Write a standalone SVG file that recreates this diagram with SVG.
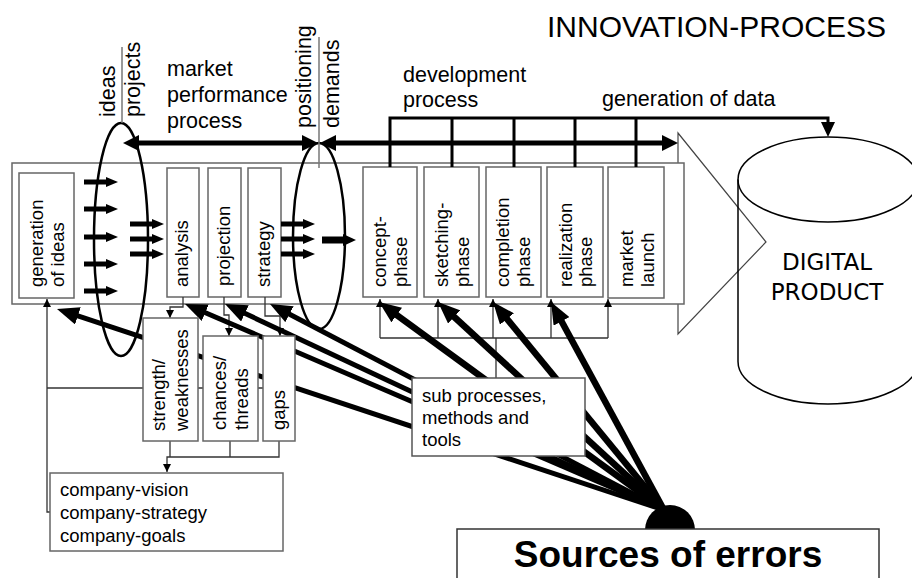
<svg xmlns="http://www.w3.org/2000/svg" width="912" height="578" viewBox="0 0 912 578">
<defs>
<style>
text{font-family:"Liberation Sans",Arial,sans-serif;fill:#000}
.lbl{font-size:18.5px}
.hd{font-size:21.5px}
.box{fill:#fff;stroke:#666;stroke-width:1.5}
.thin{fill:none;stroke:#333;stroke-width:1.3}
.thick{fill:none;stroke:#000;stroke-width:5}
.thick2{fill:none;stroke:#000;stroke-width:6.5}
.ell{fill:none;stroke:#000;stroke-width:2.5}
.gl{fill:none;stroke:#777;stroke-width:1.5}
.dev{fill:none;stroke:#000;stroke-width:3}
.sma{stroke:#000;stroke-width:5}
</style>
<marker id="big" markerUnits="userSpaceOnUse" viewBox="0 0 22 18" markerWidth="22" markerHeight="18" refX="8" refY="9" orient="auto"><path d="M0,0 L22,9 L0,18 z" fill="#000"/></marker>
<marker id="dbl" markerUnits="userSpaceOnUse" viewBox="0 0 16 16" markerWidth="16" markerHeight="16" refX="8" refY="8" orient="auto-start-reverse"><path d="M0,0 L16,8 L0,16 z" fill="#000"/></marker>
<marker id="sm" markerUnits="userSpaceOnUse" viewBox="0 0 12 10" markerWidth="12" markerHeight="10" refX="4" refY="5" orient="auto"><path d="M0,0 L12,5 L0,10 z" fill="#000"/></marker>
<marker id="md" markerUnits="userSpaceOnUse" viewBox="0 0 13 12" markerWidth="13" markerHeight="12" refX="4" refY="6" orient="auto"><path d="M0,0 L13,6 L0,12 z" fill="#000"/></marker>
<marker id="dn" markerUnits="userSpaceOnUse" viewBox="0 0 15 14" markerWidth="15" markerHeight="14" refX="5" refY="7" orient="auto"><path d="M0,0 L15,7 L0,14 z" fill="#000"/></marker>
<marker id="tn" markerUnits="userSpaceOnUse" viewBox="0 0 8 8" markerWidth="8" markerHeight="8" refX="8" refY="4" orient="auto"><path d="M0,0 L8,4 L0,8 z" fill="#000"/></marker>
</defs>
<rect width="912" height="578" fill="#fff"/>

<text x="547" y="37" style="font-size:30px">INNOVATION-PROCESS</text>

<g id="product-arrow"><polygon points="678,133 766,242 678,334" fill="none" stroke="#444" stroke-width="1.2"/></g>

<g id="digital-product">
<ellipse cx="828" cy="179.5" rx="90" ry="42.5" fill="none" stroke="#000" stroke-width="1.5"/>
<path d="M738,179.5 V361.5 A90,42.5 0 0 0 918,361.5 V179.5" fill="none" stroke="#000" stroke-width="1.5"/>
<text x="827" y="270" text-anchor="middle" style="font-family:'DejaVu Sans',sans-serif;font-size:23px">DIGITAL</text>
<text x="827" y="300" text-anchor="middle" style="font-family:'DejaVu Sans',sans-serif;font-size:23px">PRODUCT</text>
</g>

<g id="process-frame"><rect class="box" x="12" y="163" width="672" height="141"/></g>

<g id="generation-of-ideas"><rect class="box" x="19" y="173" width="55" height="125"/>
<text class="lbl" transform="translate(42.5,287) rotate(-90)">generation</text>
<text class="lbl" transform="translate(64,287) rotate(-90)">of ideas</text></g>
<g id="analysis"><rect class="box" x="167" y="168" width="32" height="129"/>
<text class="lbl" transform="translate(188,287) rotate(-90)">analysis</text></g>
<g id="projection"><rect class="box" x="208" y="168" width="33" height="129"/>
<text class="lbl" transform="translate(229.5,286) rotate(-90)">projection</text></g>
<g id="strategy"><rect class="box" x="248" y="168" width="33" height="129"/>
<text class="lbl" transform="translate(269.5,287) rotate(-90)">strategy</text></g>
<g id="concept-phase"><rect class="box" x="363" y="167" width="54" height="130"/>
<text class="lbl" transform="translate(386,287) rotate(-90)">concept-</text>
<text class="lbl" transform="translate(407,287) rotate(-90)">phase</text></g>
<g id="sketching-phase"><rect class="box" x="424" y="167" width="55" height="130"/>
<text class="lbl" transform="translate(448,287) rotate(-90)">sketching-</text>
<text class="lbl" transform="translate(469,287) rotate(-90)">phase</text></g>
<g id="completion-phase"><rect class="box" x="486" y="167" width="55" height="130"/>
<text class="lbl" transform="translate(509,287) rotate(-90)">completion</text>
<text class="lbl" transform="translate(530,287) rotate(-90)">phase</text></g>
<g id="realization-phase"><rect class="box" x="547" y="167" width="56" height="130"/>
<text class="lbl" transform="translate(572,287) rotate(-90)">realization</text>
<text class="lbl" transform="translate(592,287) rotate(-90)">phase</text></g>
<g id="market-launch"><rect class="box" x="608" y="167" width="56" height="131"/>
<text class="lbl" transform="translate(633,287) rotate(-90)">market</text>
<text class="lbl" transform="translate(654,287) rotate(-90)">launch</text></g>

<g id="ideas-projects">
<ellipse class="ell" cx="121" cy="239.5" rx="27" ry="116.5"/>
<path class="gl" d="M122,47 V123"/>
<text class="hd" transform="translate(115,117) rotate(-90)">ideas</text>
<text class="hd" transform="translate(139.5,117) rotate(-90)">projects</text>
</g>
<g id="positioning-demands">
<ellipse class="ell" cx="319" cy="236" rx="26" ry="93"/>
<path class="gl" d="M319,37 V168"/>
<text class="hd" transform="translate(311,128) rotate(-90)">positioning</text>
<text class="hd" transform="translate(338.5,128) rotate(-90)">demands</text>
</g>
<g id="headings">
<text class="hd" x="167" y="76">market</text>
<text class="hd" x="167" y="102">performance</text>
<text class="hd" x="167" y="128">process</text>
<text class="hd" x="403" y="82">development</text>
<text class="hd" x="403" y="107">process</text>
<text class="hd" x="602" y="106">generation of data</text>
</g>

<g id="connectors">
<line class="sma" x1="131" y1="143" x2="310" y2="143" stroke-width="6" marker-start="url(#dbl)" marker-end="url(#dbl)"/>
<line class="sma" x1="328" y1="143" x2="670" y2="143" stroke-width="6" marker-start="url(#dbl)" marker-end="url(#dbl)"/>
<path class="dev" d="M390,167 V118 H828 V127" marker-end="url(#dn)"/>
<path class="dev" d="M452,118 V167 M514,118 V167 M575,118 V167 M636,118 V167"/>
<g class="sma">
<line x1="84" y1="182" x2="110" y2="182" marker-end="url(#sm)"/>
<line x1="84" y1="209" x2="110" y2="209" marker-end="url(#sm)"/>
<line x1="84" y1="237" x2="110" y2="237" marker-end="url(#sm)"/>
<line x1="84" y1="264" x2="110" y2="264" marker-end="url(#sm)"/>
<line x1="84" y1="291" x2="110" y2="291" marker-end="url(#sm)"/>
<line x1="130" y1="224" x2="156" y2="224" marker-end="url(#sm)"/>
<line x1="130" y1="239" x2="156" y2="239" marker-end="url(#sm)"/>
<line x1="130" y1="254" x2="156" y2="254" marker-end="url(#sm)"/>
<line x1="281" y1="224" x2="307" y2="224" marker-end="url(#sm)"/>
<line x1="281" y1="239" x2="307" y2="239" marker-end="url(#sm)"/>
<line x1="281" y1="254" x2="307" y2="254" marker-end="url(#sm)"/>
<line x1="322" y1="240" x2="347" y2="240" stroke-width="7" marker-end="url(#md)"/>
</g>
<path class="thin" d="M50,512 H47 V299" marker-end="url(#tn)"/>
<path class="thin" d="M47,388 H263"/>
<path class="thin" d="M183,297 V307 H170 V318" marker-end="url(#tn)"/>
<path class="thin" d="M224,297 V315 H229 V336" marker-end="url(#tn)"/>
<path class="thin" d="M265,297 V316 H280 V336" marker-end="url(#tn)"/>
<path class="thin" d="M170,441 V457 M230,441 V457"/>
<path class="thin" d="M279,441 V457 H167 V472" marker-end="url(#tn)"/>
<path class="thin" d="M380,338 H608 M496,338 V378"/>
<path class="thin" d="M380,338 V299" marker-end="url(#tn)"/>
<path class="thin" d="M438,338 V299" marker-end="url(#tn)"/>
<path class="thin" d="M493,338 V299" marker-end="url(#tn)"/>
<path class="thin" d="M551,338 V299" marker-end="url(#tn)"/>
<path class="thin" d="M608,338 V299" marker-end="url(#tn)"/>
<line class="thick" x1="664" y1="510" x2="70.3" y2="313.4" marker-end="url(#big)"/>
<line class="thick" x1="664" y1="510" x2="197.9" y2="309.5" marker-end="url(#big)"/>
<line class="thick" x1="664" y1="510" x2="237.7" y2="310" marker-end="url(#big)"/>
<line class="thick" x1="664" y1="510" x2="282.4" y2="310.5" marker-end="url(#big)"/>
<line class="thick2" x1="664" y1="510" x2="390.3" y2="310.3" marker-end="url(#big)"/>
<line class="thick2" x1="664" y1="510" x2="448.3" y2="311.5" marker-end="url(#big)"/>
<line class="thick2" x1="664" y1="510" x2="501.9" y2="312.8" marker-end="url(#big)"/>
<line class="thick2" x1="664" y1="510" x2="557.7" y2="314.3" marker-end="url(#big)"/>
</g>

<g id="strength-weaknesses"><rect class="box" x="143" y="318" width="55" height="123"/>
<text class="lbl" transform="translate(165,431) rotate(-90)">strength/</text>
<text class="lbl" transform="translate(188,431) rotate(-90)">weaknesses</text></g>
<g id="chances-threads"><rect class="box" x="203" y="336" width="55" height="105"/>
<text class="lbl" transform="translate(226,430) rotate(-90)">chances/</text>
<text class="lbl" transform="translate(248,430) rotate(-90)">threads</text></g>
<g id="gaps"><rect class="box" x="263" y="336" width="32" height="105"/>
<text class="lbl" transform="translate(285,430) rotate(-90)">gaps</text></g>

<g id="sub-processes"><rect class="box" x="412" y="378" width="173" height="78" style="stroke:#555"/>
<text class="lbl" x="422" y="402">sub processes,</text>
<text class="lbl" x="422" y="424">methods and</text>
<text class="lbl" x="422" y="446">tools</text></g>

<g id="company"><rect class="box" x="50" y="473" width="233" height="78"/>
<text class="lbl" x="60" y="496">company-vision</text>
<text class="lbl" x="60" y="519">company-strategy</text>
<text class="lbl" x="60" y="542">company-goals</text></g>

<g id="sources-of-errors">
<circle cx="670" cy="530" r="25" fill="#000"/>
<rect x="457" y="529" width="422" height="60" fill="#fff" stroke="#333" stroke-width="1.5"/>
<text x="668" y="567" text-anchor="middle" style="font-size:37px;font-weight:bold">Sources of errors</text>
</g>
</svg>
